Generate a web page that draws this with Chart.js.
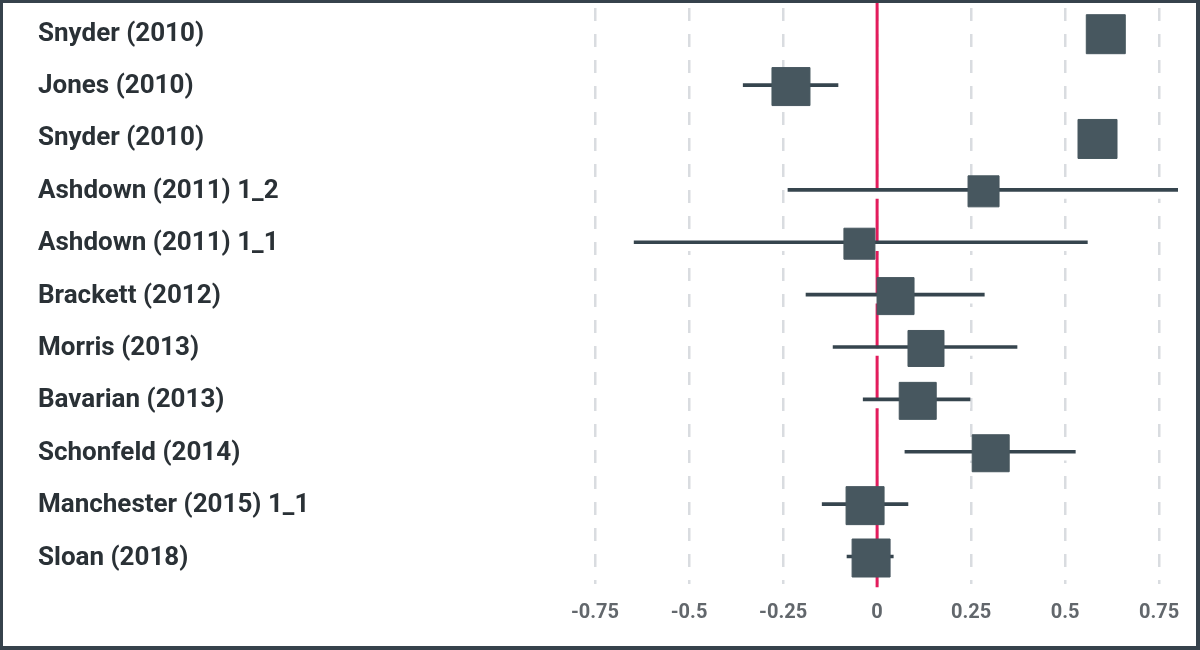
<!DOCTYPE html>
<html lang="en">
  <head>
    <meta charset="UTF-8" />
    <title>Forest plot</title>
    <style>
      body {
        margin: 0;
        background: #ffffff;
      }
      .frame {
        width: 1200px;
        height: 650px;
        box-sizing: border-box;
        border-style: solid;
        border-color: #36424c;
        border-width: 3px 4px 4px 3px;
        background: #ffffff;
      }
      canvas {
        display: block;
      }
    </style>
    <script src="https://cdn.jsdelivr.net/npm/chart.js"></script>
  </head>
  <body>
    <div class="frame">
      <canvas id="forest" width="1193" height="643"></canvas>
    </div>

    <script>
      // study labels, top to bottom
      const studies = [
        "Snyder (2010)",
        "Jones (2010)",
        "Snyder (2010)",
        "Ashdown (2011) 1_2",
        "Ashdown (2011) 1_1",
        "Brackett (2012)",
        "Morris (2013)",
        "Bavarian (2013)",
        "Schonfeld (2014)",
        "Manchester (2015) 1_1",
        "Sloan (2018)",
      ];
      // effect size estimates
      const effects = [0.608, -0.229, 0.586, 0.283, -0.047, 0.049, 0.13, 0.108, 0.302, -0.032, -0.016];
      // confidence interval bounds
      const ciLow = [0.58, -0.356, 0.56, -0.237, -0.646, -0.189, -0.117, -0.037, 0.074, -0.146, -0.08];
      const ciHigh = [0.64, -0.104, 0.61, 0.81, 0.559, 0.285, 0.372, 0.247, 0.527, 0.082, 0.043];
      // study weights (square size)
      const weights = [9.75, 9.5, 9.75, 7.75, 7.75, 9.25, 9, 9.25, 9.25, 9.5, 9.5];
      const xTicks = [-0.75, -0.5, -0.25, 0, 0.25, 0.5, 0.75];

      const intervals = studies.map((s, i) => [ciLow[i], ciHigh[i]]);
      const points = effects.map((v, i) => ({ x: v, y: i }));
      // rect point style: side = 2 * r * SQRT1_2
      const radii = weights.map((w) => (w * 4) / (2 * Math.SQRT1_2));

      // red line at zero, drawn under the marks
      const zeroLine = {
        id: "zeroLine",
        beforeDatasetsDraw(chart) {
          const ctx = chart.ctx;
          const x = chart.scales.x.getPixelForValue(0);
          const area = chart.chartArea;
          ctx.save();
          ctx.strokeStyle = "#e31c5c";
          ctx.lineWidth = 3;
          ctx.beginPath();
          ctx.moveTo(x, area.top - 5);
          ctx.lineTo(x, area.bottom + 3);
          ctx.stroke();
          ctx.restore();
        },
      };

      const ctx = document.getElementById("forest").getContext("2d");
      new Chart(ctx, {
        type: "bar",
        data: {
          labels: studies,
          datasets: [
            {
              type: "scatter",
              data: points,
              pointStyle: "rect",
              pointRadius: radii,
              backgroundColor: "#47575f",
              borderColor: "#47575f",
              borderWidth: 1,
              order: 0,
            },
            {
              data: intervals,
              backgroundColor: "#36454e",
              barThickness: 3,
              indexAxis: "y",
              order: 1,
            },
            {
              data: intervals,
              backgroundColor: "#ffffff",
              barThickness: 7,
              indexAxis: "y",
              order: 2,
            },
          ],
        },
        options: {
          indexAxis: "y",
          responsive: false,
          animation: false,
          layout: {
            autoPadding: false,
            padding: { left: 35, top: 5, right: 18, bottom: 0 },
          },
          plugins: {
            legend: { display: false },
            tooltip: { enabled: false },
          },
          scales: {
            x: {
              type: "linear",
              min: -0.85,
              max: 0.8,
              afterFit: (scale) => {
                scale.height = 61.8;
                scale.paddingLeft = 0;
                scale.paddingRight = 0;
              },
              afterBuildTicks: (scale) => {
                scale.ticks = xTicks.map((v) => ({ value: v }));
              },
              grid: {
                color: "#d9dce0",
                lineWidth: 2.5,
                drawTicks: false,
              },
              border: { display: false, dash: [13, 13] },
              ticks: {
                padding: 17,
                color: "#62676c",
                font: { family: "Roboto", size: 20, weight: "bold" },
                callback: (v) => String(v),
              },
            },
            y: {
              type: "category",
              offset: true,
              afterFit: (scale) => {
                scale.width = 519.4;
                scale.paddingTop = 0;
                scale.paddingBottom = 0;
              },
              grid: { display: false },
              border: { display: false },
              ticks: {
                crossAlign: "far",
                padding: 0,
                color: "#2a3136",
                font: { family: "Roboto", size: 26, weight: "bold" },
              },
            },
          },
        },
        plugins: [zeroLine],
      });
    </script>
  </body>
</html>
